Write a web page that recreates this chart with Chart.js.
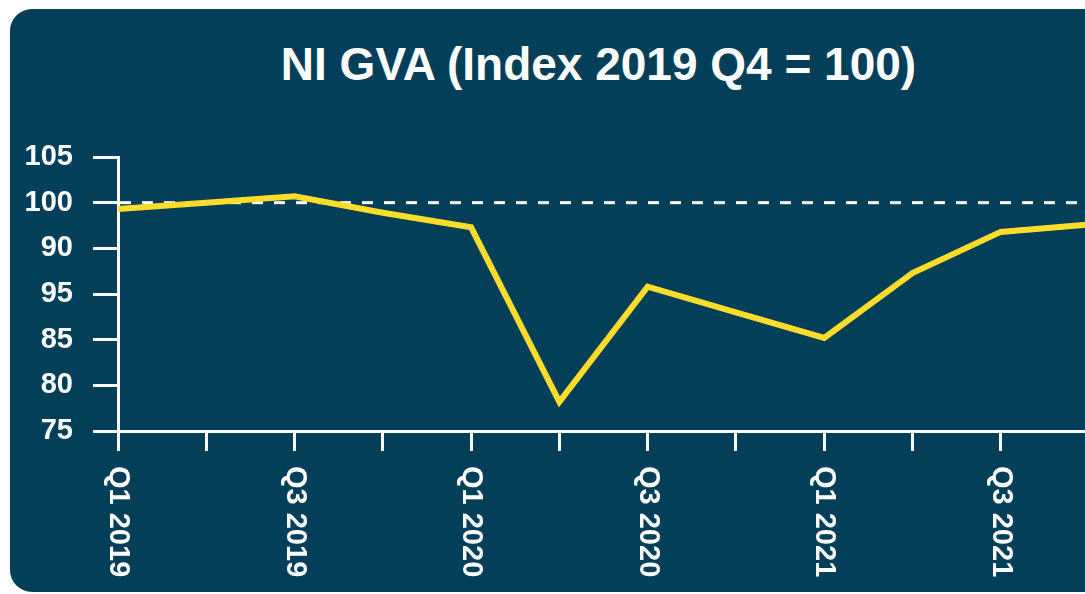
<!DOCTYPE html>
<html>
<head>
<meta charset="utf-8">
<script src="https://cdn.jsdelivr.net/npm/chart.js@4"></script>
<style>
  html, body { margin: 0; padding: 0; background: #ffffff; }
  body { width: 1085px; height: 594px; overflow: hidden; position: relative; }
  #panel {
    position: absolute; left: 10px; top: 9px; width: 1200px; height: 583px;
    background: #043f5a; border-radius: 22px;
  }
  #title {
    position: absolute; left: 0; top: 41px; width: 1197px; text-align: center;
    font: bold 46px "Liberation Sans", Arial, sans-serif; line-height: 46px; color: #ffffff;
  }
  #wrap { position: absolute; left: 0; top: 0; width: 1110px; height: 594px; }
</style>
</head>
<body>
<div id="panel"></div>
<div id="title">NI GVA (Index 2019 Q4 = 100)</div>
<div id="wrap"><canvas id="gvaChart"></canvas></div>
<script>
// Datos del gráfico
const quarters = ['Q1 2019', 'Q2 2019', 'Q3 2019', 'Q4 2019', 'Q1 2020', 'Q2 2020',
                  'Q3 2020', 'Q4 2020', 'Q1 2021', 'Q2 2021', 'Q3 2021', 'Q4 2021'];
const gvaIndex = [99.3, 100.0, 100.7, 98.9, 97.3, 78.2, 90.8, 88.0, 85.2, 92.3, 96.8, 97.6];

// Etiquetas del eje X (solo cada dos trimestres)
const xTickLabels = ['Q1 2019', '', 'Q3 2019', '', 'Q1 2020', '',
                     'Q3 2020', '', 'Q1 2021', '', 'Q3 2021', ''];

// Etiquetas del eje Y tal como aparecen en el original (de abajo arriba)
const yTickValues = [75, 80, 85, 90, 95, 100, 105];
const yTickLabels = ['75', '80', '85', '95', '90', '100', '105'];

// Línea de referencia discontinua
const baselineValue = 100;

const tickFont = 'bold 29px "Liberation Sans", Arial, sans-serif';

// Dibuja la línea discontinua en 100 antes de la serie
const baselinePlugin = {
    id: 'baseline',
    beforeDatasetsDraw(chart) {
        const { ctx, chartArea, scales } = chart;
        const y = scales.y.getPixelForValue(baselineValue);
        ctx.save();
        ctx.strokeStyle = '#ffffff';
        ctx.lineWidth = 3;
        ctx.setLineDash([11, 11]);
        ctx.beginPath();
        ctx.moveTo(chartArea.left + 2, y);
        ctx.lineTo(chartArea.right + 40, y);
        ctx.stroke();
        ctx.restore();
    }
};

// Etiquetas del eje X giradas en sentido horario
const xLabelPlugin = {
    id: 'xLabels',
    afterDraw(chart) {
        const { ctx, scales } = chart;
        const xScale = scales.x;
        ctx.save();
        ctx.fillStyle = '#ffffff';
        ctx.font = tickFont;
        ctx.textAlign = 'left';
        ctx.textBaseline = 'middle';
        xTickLabels.forEach((label, i) => {
            if (!label) return;
            const x = xScale.getPixelForTick(i);
            ctx.save();
            ctx.translate(x, xScale.top + 35);
            ctx.rotate(Math.PI / 2);
            ctx.fillText(label, 0, 0);
            ctx.restore();
        });
        ctx.restore();
    }
};

const ctx = document.getElementById('gvaChart').getContext('2d');
const gvaChart = new Chart(ctx, {
    type: 'line',
    data: {
        labels: quarters,
        datasets: [{
            label: 'NI GVA',
            data: gvaIndex,
            borderColor: '#fedc2a',
            borderWidth: 6,
            borderJoinStyle: 'miter',
            pointRadius: 0,
            tension: 0,
            fill: false
        }]
    },
    options: {
        responsive: true,
        maintainAspectRatio: false,
        animation: false,
        layout: {
            padding: { left: 10, right: 21, top: 157, bottom: 143 }
        },
        plugins: {
            legend: { display: false },
            tooltip: { enabled: false }
        },
        scales: {
            x: {
                type: 'category',
                offset: false,
                border: { display: true, color: '#ffffff', width: 3 },
                grid: {
                    drawOnChartArea: false,
                    drawTicks: true,
                    tickLength: 20,
                    color: '#ffffff',
                    lineWidth: 3
                },
                ticks: { display: false, autoSkip: false }
            },
            y: {
                min: 75,
                max: 105,
                afterBuildTicks: (scale) => {
                    scale.ticks = yTickValues.map(v => ({ value: v }));
                },
                afterFit: (scale) => { scale.width = 108; },
                border: { display: true, color: '#ffffff', width: 3 },
                grid: {
                    drawOnChartArea: false,
                    drawTicks: true,
                    tickLength: 25,
                    color: '#ffffff',
                    lineWidth: 3
                },
                ticks: {
                    color: '#ffffff',
                    padding: 20,
                    font: { family: '"Liberation Sans", Arial, sans-serif', size: 29, weight: 'bold' },
                    callback: (value) => yTickLabels[yTickValues.indexOf(value)]
                }
            }
        }
    },
    plugins: [baselinePlugin, xLabelPlugin]
});
</script>
</body>
</html>
